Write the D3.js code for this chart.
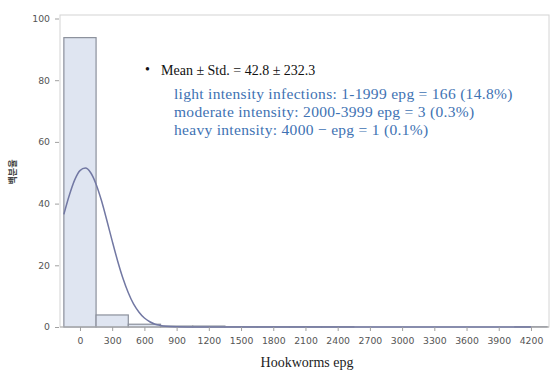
<!DOCTYPE html>
<html><head><meta charset="utf-8">
<script src="https://cdn.jsdelivr.net/npm/d3@7"></script>
<style>body{margin:0;background:#fff}svg{display:block}</style>
</head><body>
<svg id="c" width="550" height="373"></svg>
<script>
// Histogram bins (centre, epg) and percentages
const binCenters = [0, 300, 600, 900, 1200, 1500, 1800, 2100, 2400, 2700, 3000, 3300, 3600, 3900, 4200];
const binPercent = [93.8, 3.9, 0.9, 0.3, 0.3, 0.1, 0.1, 0.1, 0.1, 0, 0, 0, 0, 0, 0.1];
const binWidth = 300;
// Fitted normal curve (epg, percent)
const curveX = [-150, -100, -50, 0, 50, 100, 150, 200, 250, 300, 350, 400, 450, 500, 550, 600, 650, 700, 750, 800, 900, 1000, 1200, 1500, 2000, 3000, 4200];
const curveY = [36.5, 42.6, 47.6, 50.7, 51.5, 50.0, 46.3, 41.0, 34.6, 27.9, 21.5, 15.8, 11.1, 7.4, 4.8, 2.9, 1.7, 0.9, 0.5, 0.25, 0.06, 0.01, 0, 0, 0, 0, 0];
const xTicks = [0, 300, 600, 900, 1200, 1500, 1800, 2100, 2400, 2700, 3000, 3300, 3600, 3900, 4200];
const yTicks = [0, 20, 40, 60, 80, 100];
const statLine = "Mean ± Std. = 42.8 ± 232.3";
const noteLines = [
  "light intensity infections: 1-1999 epg = 166 (14.8%)",
  "moderate intensity: 2000-3999 epg = 3 (0.3%)",
  "heavy intensity: 4000 − epg = 1 (0.1%)"
];
const xTitle = "Hookworms epg";
const yTitle = "백분율";

const svg = d3.select("#c");
const L = 60, R = 549, T = 15, B = 327;
const x = d3.scaleLinear().domain([-186, 4368]).range([L, R]);
const y = d3.scaleLinear().domain([0, 100]).range([B, 18.5]);

// frame
svg.append("rect").attr("x", L).attr("y", T).attr("width", R - L).attr("height", B - T)
  .attr("fill", "none").attr("stroke", "#d4d4d4").attr("stroke-width", 1);

// bars
svg.append("g").selectAll("rect").data(binCenters.map((c, i) => ({c, v: binPercent[i]})).filter(d => d.v > 0))
  .join("rect")
  .attr("x", d => x(d.c - binWidth / 2))
  .attr("y", d => y(d.v))
  .attr("width", d => x(d.c + binWidth / 2) - x(d.c - binWidth / 2))
  .attr("height", d => B - y(d.v))
  .attr("fill", "#dfe5f1").attr("stroke", "#8b909c").attr("stroke-width", 1.2);

// baseline
svg.append("line").attr("x1", L).attr("x2", R).attr("y1", B).attr("y2", B).attr("stroke", "#b0b0b0").attr("stroke-width", 1.2);

// curve
const line = d3.line().x(d => x(d[0])).y(d => y(d[1])).curve(d3.curveMonotoneX);
svg.append("path").datum(curveX.map((v, i) => [v, curveY[i]]))
  .attr("d", line).attr("fill", "none").attr("stroke", "#7278a3").attr("stroke-width", 1.5);

// axes
const xAxis = svg.append("g").attr("transform", `translate(0,${B})`)
  .call(d3.axisBottom(x).tickValues(xTicks).tickSize(4).tickPadding(6).tickFormat(d3.format("d")));
const yAxis = svg.append("g").attr("transform", `translate(${L - 1},0)`)
  .call(d3.axisLeft(y).tickValues(yTicks).tickSize(4).tickPadding(5));
[xAxis, yAxis].forEach(a => {
  a.select(".domain").remove();
  a.selectAll(".tick line").attr("stroke", "#a0a0a0");
  a.selectAll(".tick text").attr("fill", "#555").attr("font-family", "DejaVu Sans, sans-serif").attr("font-size", 9.3);
});

// annotation
svg.append("text").attr("x", 145).attr("y", 74).attr("font-family", "Liberation Serif, serif")
  .attr("font-size", 14).attr("fill", "#111").text("•");
svg.append("text").attr("x", 161).attr("y", 75).attr("font-family", "Liberation Serif, serif")
  .attr("font-size", 14).attr("fill", "#111").text(statLine);
svg.append("g").selectAll("text").data(noteLines).join("text")
  .attr("x", 174).attr("y", (d, i) => 99 + i * 18)
  .attr("font-family", "Liberation Serif, serif").attr("font-size", 15.5).attr("letter-spacing", 0.3)
  .attr("fill", "#3e72b3")
  .text(d => d);

// titles
svg.append("text").attr("x", 307).attr("y", 367).attr("text-anchor", "middle")
  .attr("font-family", "Liberation Serif, serif").attr("font-size", 14).attr("fill", "#222").text(xTitle);
svg.append("text").attr("transform", "translate(16,172) rotate(-90)").attr("text-anchor", "middle")
  .attr("font-family", "Noto Sans CJK KR, sans-serif").attr("font-size", 9).attr("font-weight", "bold").attr("fill", "#444").text(yTitle);
</script>
</body></html>
